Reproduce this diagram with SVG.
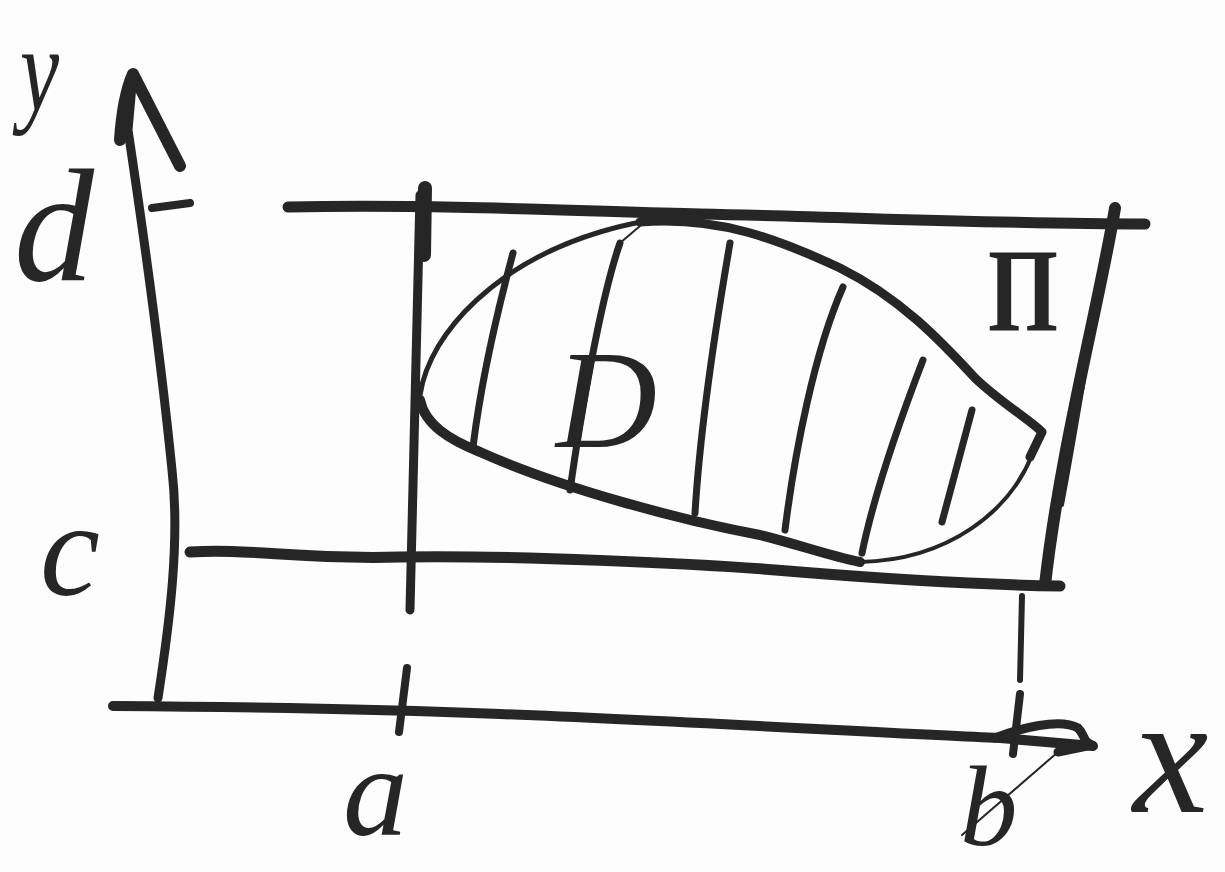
<svg xmlns="http://www.w3.org/2000/svg" width="1225" height="872" viewBox="0 0 1225 872">
<style>
.s{fill:none;stroke:#262626;stroke-linecap:round;stroke-linejoin:round}
.t{fill:#262626;font-family:"Liberation Serif","DejaVu Serif",serif;font-style:italic}
</style>
<rect width="1225" height="872" fill="#fdfdfd"/>
<g id="axes">
  <path class="s" stroke-width="9" d="M158,698 C170,620 180,540 172,470 C160,350 140,210 128,130 L133,74"/>
  <path class="s" stroke-width="12" d="M120,140 C122,110 126,90 133,74 L180,166"/>
  <path class="s" stroke-width="10" d="M113,706 C250,707 400,710 500,714 C700,722 900,734 1000,738 L1093,746"/>
  <path class="s" stroke-width="9" d="M995,738 C1020,728 1060,718 1078,728 C1086,736 1082,741 1092,745 L1058,752"/>
  <path class="s" stroke-width="2" d="M1058,752 L962,835"/>
  <path class="s" stroke-width="8" d="M152,208 L190,203"/>
  <path class="s" stroke-width="8" d="M407,668 L399,732"/>
  <path class="s" stroke-width="8" d="M1020,694 L1013,754"/>
</g>
<g id="rectangle">
  <path class="s" stroke-width="11" d="M288,207 C450,204 600,212 700,214 C850,217 1000,224 1145,224"/>
  <path class="s" stroke-width="14" d="M425,188 L424,255"/>
  <path class="s" stroke-width="9" d="M420,195 C418,300 414,450 410,610"/>
  <path class="s" stroke-width="11" d="M190,552 C250,548 300,560 400,557 C500,555 700,563 800,572 C900,580 1000,585 1060,586"/>
  <path class="s" stroke-width="12" d="M1115,208 C1100,300 1060,450 1045,585"/>
  <path class="s" stroke-width="4" d="M1108,235 C1092,330 1078,420 1062,505"/>
  <path class="s" stroke-width="6" d="M1022,596 L1020,680"/>
</g>
<g id="region-D">
  <path class="s" stroke-width="5" d="M420,395 C430,330 500,262 600,232 C620,226 630,224 642,222"/>
  <path class="s" stroke-width="9" d="M640,222 C720,216 780,240 840,268 C900,298 940,340 975,378 C1000,402 1030,420 1042,432 L1030,457"/>
  <path class="s" stroke-width="10" d="M420,400 C425,425 450,440 480,452 C560,488 680,520 760,535 C800,545 830,556 860,562"/>
  <path class="s" stroke-width="4" d="M860,562 C950,560 1010,510 1032,455"/>
  <path class="s" stroke-width="7" d="M513,253 C495,320 480,390 473,447"/>
  <path class="s" stroke-width="7" d="M620,243 C600,300 580,420 570,490"/>
  <path class="s" stroke-width="2" d="M620,243 L640,226"/>
  <path class="s" stroke-width="7" d="M730,243 C715,330 700,430 695,513"/>
  <path class="s" stroke-width="7" d="M843,287 C815,350 795,450 785,530"/>
  <path class="s" stroke-width="7" d="M923,360 C900,420 875,490 862,553"/>
  <path class="s" stroke-width="7" d="M972,410 L942,522"/>
  <text class="t" x="556" y="447" font-size="140">D</text>
</g>
<g id="label-P">
  <text x="988" y="330" font-size="118" font-weight="bold" fill="#262626" font-family="'Liberation Serif','DejaVu Serif',serif" textLength="70" lengthAdjust="spacingAndGlyphs">П</text>
</g>
<g id="labels">
  <text class="t" transform="translate(20,110) scale(0.8,1.1)" font-size="110">y</text>
  <text class="t" x="14" y="280" font-size="160">d</text>
  <text class="t" x="40" y="595" font-size="135">c</text>
  <text class="t" x="343" y="835" font-size="130">a</text>
  <text class="t" x="960" y="845" font-size="115">b</text>
  <text class="t" x="1133" y="812" font-size="170">x</text>
</g>
</svg>
